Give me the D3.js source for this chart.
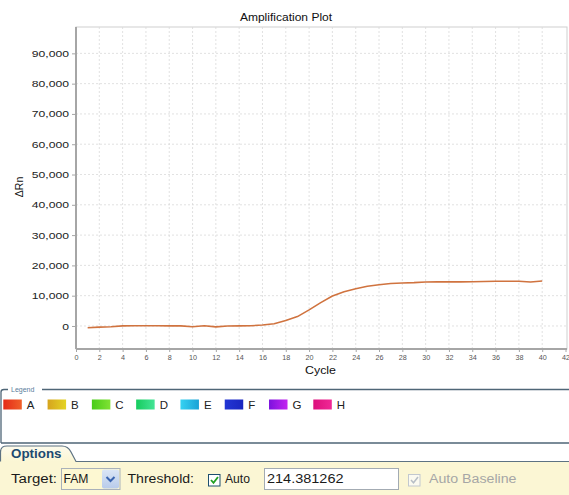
<!DOCTYPE html>
<html>
<head>
<meta charset="utf-8">
<script src="https://cdn.jsdelivr.net/npm/d3@7"></script>
<style>
  html, body { margin: 0; padding: 0; background: #ffffff; }
  svg { display: block; }
  text { font-family: "Liberation Sans", Arial, sans-serif; }
</style>
</head>
<body>
<svg id="chart" width="569" height="495"></svg>
<script>
// ---- data ----
const cycles = [1,2,3,4,5,6,7,8,9,10,11,12,13,14,15,16,17,18,19,20,
                21,22,23,24,25,26,27,28,29,30,31,32,33,34,35,36,37,38,39,40];
const deltaRn = [-600,-380,-260,20,60,70,70,50,20,-280,60,-300,0,30,80,300,750,1800,3100,5300,
                 7700,9900,11300,12300,13100,13600,14000,14200,14300,14500,14550,14550,14550,14600,14700,14750,14750,14750,14500,14850];
const xTicks = [0,2,4,6,8,10,12,14,16,18,20,22,24,26,28,30,32,34,36,38,40,42];
const yTicks = [0,10000,20000,30000,40000,50000,60000,70000,80000,90000];
const legendWells = ["A","B","C","D","E","F","G","H"];
const legendColors = [["#e42a18","#f0602a"],["#d6a41e","#e4d424"],["#48cc18","#80e234"],["#16cc5e","#44e496"],
                      ["#36d2f2","#1aa2d6"],["#2236d4","#1a26c0"],["#7c12de","#c424f0"],["#dc107c","#f02896"]];
const thresholdValue = "214.381262";
const targetName = "FAM";

(function draw() {
const svg = d3.select("#chart");

// stretch a text node horizontally by a factor
function widen(sel, k) {
  sel.each(function () {
    const w = this.getComputedTextLength();
    this.setAttribute("textLength", (w * k).toFixed(2));
    this.setAttribute("lengthAdjust", "spacingAndGlyphs");
  });
}

// ---- plot frame ----
const pLeft = 76, pRight = 565.5, pTop = 27, pBottom = 349, frameRight = 567;
const x = d3.scaleLinear().domain([0, 42]).range([pLeft, pRight]);
const y = d3.scaleLinear().domain([-7600, 98700]).range([pBottom, pTop]);

svg.append("rect").attr("x", pLeft).attr("y", pTop).attr("width", frameRight - pLeft).attr("height", pBottom - pTop)
  .attr("fill", "#ffffff").attr("stroke", "#cfcfcf").attr("stroke-width", 1);

// grid
const grid = svg.append("g").attr("stroke", "#d9d9d9").attr("stroke-width", 0.8).attr("stroke-dasharray", "2,2");
grid.selectAll("line.v").data(xTicks.filter(d => d > 0 && d < 42)).join("line").attr("class", "v")
  .attr("x1", d => x(d)).attr("x2", d => x(d)).attr("y1", pTop).attr("y2", pBottom);
grid.selectAll("line.h").data(yTicks).join("line").attr("class", "h")
  .attr("y1", d => y(d)).attr("y2", d => y(d)).attr("x1", pLeft).attr("x2", frameRight);

// axes
const yAxis = svg.append("g").attr("transform", `translate(${pLeft},0)`)
  .call(d3.axisLeft(y).tickValues(yTicks).tickFormat(d3.format(",")).tickSize(4).tickPadding(3));
yAxis.select(".domain").attr("stroke", "#a6a6a6").attr("stroke-width", 2).attr("d", `M0,${pTop}V${pBottom}`);
yAxis.selectAll(".tick line").attr("stroke", "#a6a6a6");
yAxis.selectAll(".tick text").attr("font-size", 9.5).attr("fill", "#222").attr("font-family", "Liberation Sans, Arial, sans-serif");
widen(yAxis.selectAll(".tick text"), 1.28);

const xAxis = svg.append("g").attr("transform", `translate(0,${pBottom})`)
  .call(d3.axisBottom(x).tickValues(xTicks).tickFormat(d3.format("d")).tickSize(3).tickPadding(3));
xAxis.select(".domain").attr("stroke", "#a6a6a6").attr("stroke-width", 2).attr("d", `M${pLeft},0H${frameRight}`);
xAxis.selectAll(".tick line").attr("stroke", "#a6a6a6");
xAxis.selectAll(".tick text").attr("font-size", 7.2).attr("fill", "#555").attr("font-family", "Liberation Sans, Arial, sans-serif");

// titles
const title = svg.append("text").attr("x", 286).attr("y", 20.7).attr("text-anchor", "middle")
  .attr("font-size", 10.2).attr("fill", "#111").text("Amplification Plot");
widen(title, 1.18);
const xLab = svg.append("text").attr("x", 320.5).attr("y", 374).attr("text-anchor", "middle")
  .attr("font-size", 10.8).attr("fill", "#111").text("Cycle");
widen(xLab, 1.15);
svg.append("text").attr("transform", "translate(22.5,187) rotate(-90)").attr("text-anchor", "middle")
  .attr("font-size", 10.5).attr("fill", "#111").text("ΔRn");

// amplification curve
const line = d3.line().x(d => x(d[0])).y(d => y(d[1])).curve(d3.curveLinear);
svg.append("path").datum(cycles.map((c, i) => [c, deltaRn[i]]))
  .attr("d", line).attr("fill", "none").attr("stroke", "#d0733f").attr("stroke-width", 1.6)
  .attr("stroke-linejoin", "round");

// ---- legend box ----
const frameColor = "#4f6677";
svg.append("path").attr("d", "M1,443 V392 Q1,389.5 4,389.5 H8 M42,389.5 H569 M1,443 H569")
  .attr("fill", "none").attr("stroke", frameColor).attr("stroke-width", 1.3);
svg.append("text").attr("x", 11).attr("y", 391.5).attr("font-size", 7).attr("fill", "#5a7c9c").text("Legend");

const defs = svg.append("defs");
legendColors.forEach((c, i) => {
  const g = defs.append("linearGradient").attr("id", "sw" + i).attr("x1", "0").attr("x2", "1").attr("y1", "0").attr("y2", "0");
  g.append("stop").attr("offset", "0").attr("stop-color", c[0]);
  g.append("stop").attr("offset", "1").attr("stop-color", c[1]);
});
const lx = d3.scalePoint().domain(legendWells).range([3.3, 313.3]);
const items = svg.append("g").selectAll("g").data(legendWells).join("g")
  .attr("transform", d => `translate(${lx(d)},0)`);
items.append("rect").attr("y", 399.5).attr("width", 18.5).attr("height", 10)
  .attr("fill", (d, i) => `url(#sw${i})`);
items.append("text").attr("x", 23.5).attr("y", 409.3).attr("font-size", 11.5).attr("fill", "#222").text(d => d);

// ---- options panel ----
svg.append("rect").attr("x", 0).attr("y", 461).attr("width", 569).attr("height", 34).attr("fill", "#fbf6d4");
const tabGrad = defs.append("linearGradient").attr("id", "tabg").attr("x1", 0).attr("x2", 0).attr("y1", 0).attr("y2", 1);
tabGrad.append("stop").attr("offset", 0).attr("stop-color", "#fdfbec");
tabGrad.append("stop").attr("offset", 1).attr("stop-color", "#fbf6d4");
svg.append("path").attr("d", "M0,461.5 V452 Q0,446 7,446 H62 Q68,446 71,452 L76,461.5 Z")
  .attr("fill", "url(#tabg)");
svg.append("path").attr("d", "M0.5,461.5 V452 Q0.5,446 7,446 H62 Q68,446 71,452 L76,461.5 H569")
  .attr("fill", "none").attr("stroke", "#5d7282").attr("stroke-width", 1.2);
svg.append("text").attr("x", 11).attr("y", 458).attr("font-size", 12.3).attr("font-weight", "bold")
  .attr("fill", "#1c4a70").text("Options").attr("textLength", 50.5).attr("lengthAdjust", "spacingAndGlyphs");

const ctl = svg.append("g").attr("font-size", 12.5).attr("fill", "#1a1a1a");
ctl.append("text").attr("x", 11).attr("y", 483.3).text("Target:").attr("textLength", 46).attr("lengthAdjust", "spacingAndGlyphs");

// target dropdown
ctl.append("rect").attr("x", 61.5).attr("y", 468.5).attr("width", 58.5).attr("height", 21)
  .attr("fill", "#fdf8d2").attr("stroke", "#a9b1b9");
ctl.append("text").attr("x", 63.5).attr("y", 483.3).text(targetName).attr("textLength", 25).attr("lengthAdjust", "spacingAndGlyphs");
const btnGrad = defs.append("linearGradient").attr("id", "btng").attr("x1", 0).attr("x2", 0).attr("y1", 0).attr("y2", 1);
btnGrad.append("stop").attr("offset", 0).attr("stop-color", "#dbe6f6");
btnGrad.append("stop").attr("offset", 1).attr("stop-color", "#b8cbea");
ctl.append("rect").attr("x", 102).attr("y", 469.5).attr("width", 17).attr("height", 19).attr("rx", 2)
  .attr("fill", "url(#btng)");
ctl.append("path").attr("d", "M106.5,477 L110.5,481 L114.5,477").attr("fill", "none")
  .attr("stroke", "#3a64b0").attr("stroke-width", 2);

ctl.append("text").attr("x", 127.5).attr("y", 483.3).text("Threshold:").attr("textLength", 66.5).attr("lengthAdjust", "spacingAndGlyphs");

// auto checkbox
ctl.append("rect").attr("x", 208.5).attr("y", 474.5).attr("width", 11.5).attr("height", 11.5)
  .attr("fill", "#ffffff").attr("stroke", "#1e4f6e").attr("stroke-width", 1);
ctl.append("path").attr("d", "M211,480 L213.5,482.8 L218,477").attr("fill", "none")
  .attr("stroke", "#22a022").attr("stroke-width", 1.8);
ctl.append("text").attr("x", 225).attr("y", 483.3).text("Auto").attr("textLength", 25).attr("lengthAdjust", "spacingAndGlyphs");

// threshold value field
ctl.append("rect").attr("x", 264.5).attr("y", 468.5).attr("width", 134).attr("height", 21)
  .attr("fill", "#ffffff").attr("stroke", "#a3abb3");
ctl.append("text").attr("x", 267).attr("y", 483.3).text(thresholdValue).attr("textLength", 76.5).attr("lengthAdjust", "spacingAndGlyphs");

// disabled baseline checkbox
ctl.append("rect").attr("x", 408.5).attr("y", 474.5).attr("width", 11.5).attr("height", 11.5)
  .attr("fill", "#fbfaf0").attr("stroke", "#c2c8cf");
ctl.append("path").attr("d", "M411,480 L413.5,482.8 L418,477").attr("fill", "none")
  .attr("stroke", "#b7bec6").attr("stroke-width", 1.5);
ctl.append("text").attr("x", 429).attr("y", 483.3).attr("fill", "#a6a6a6").text("Auto Baseline")
  .attr("textLength", 87.5).attr("lengthAdjust", "spacingAndGlyphs");
})();
</script>
</body>
</html>
